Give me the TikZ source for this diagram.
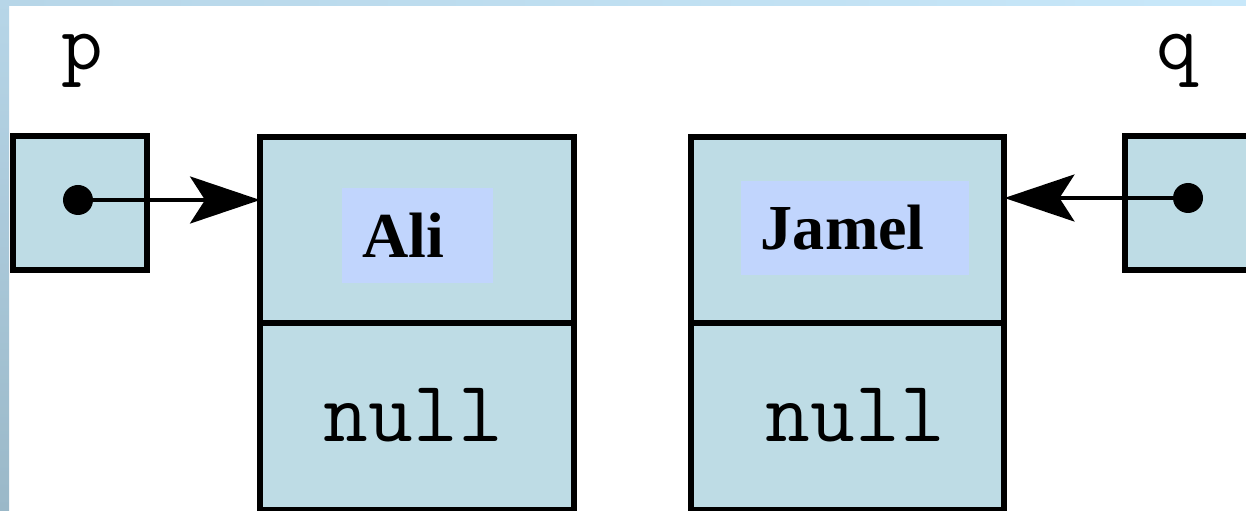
\documentclass[tikz,border=0pt]{standalone}
\usepackage{fontspec}
\usepackage{tikz}
\usetikzlibrary{positioning, arrows.meta, calc}

\newfontfamily\namefont{Liberation Serif}

\definecolor{cellblue}{RGB}{190,220,229}
\definecolor{namebg}{RGB}{193,213,253}
\definecolor{frametop}{RGB}{200,232,250}
\definecolor{frameside}{RGB}{183,214,232}
\definecolor{framelow}{RGB}{154,184,200}

\begin{document}
\begin{tikzpicture}[
    x=0.02cm, y=0.02cm,
    cell/.style={draw=black, line width=0.12cm, fill=cellblue, outer sep=0pt,
        minimum width=6.28cm, minimum height=3.74cm, inner sep=0pt},
    ref/.style={draw=black, line width=0.12cm, fill=cellblue, outer sep=0pt,
        minimum width=2.7cm, minimum height=2.7cm, inner sep=0pt},
    dot/.style={circle, fill=black, minimum size=0.6cm, inner sep=0pt},
    namebox/.style={fill=namebg, inner xsep=0.4cm, inner ysep=0pt,
        minimum height=1.9cm, font=\namefont\bfseries\fontsize{36.5}{37}\selectfont},
    nulltext/.style={anchor=base, font=\ttfamily\fontsize{49.5}{50}\selectfont},
    varname/.style={anchor=base, font=\ttfamily\fontsize{46}{46}\selectfont},
    link/.style={line width=0.08cm, -{Stealth[length=1.4cm, width=0.94cm, inset=0.3cm]}}
]

% Page and frame strips
\useasboundingbox (0,0) rectangle (1246,510);
\fill[white] (0,0) rectangle (1246,510);
\shade[top color=frameside, bottom color=framelow] (0,0) rectangle (9,510);
\shade[left color=frameside, right color=frametop] (9,504) rectangle (1246,510);

% Reference variables
\node[varname] (pname) at (82,440) {p};
\node[varname] (qname) at (1177,440) {q};
\node[ref] (pbox) at (80,307) {};
\node[ref] (qbox) at (1192,307) {};
\node[dot] (pdot) at (78,310) {};
\node[dot] (qdot) at (1188,312) {};

% First list node
\node[cell] (alidata) at (417,280) {};
\node[cell, below=0pt of alidata] (alinext) {};
\node[namebox] (aliname) at (417.5,274.5) {Ali\kern0.45em};
\node[nulltext] (alinull) at (413.5,68) {null};

% Second list node
\node[cell] (jameldata) at (847.5,280) {};
\node[cell, below=0pt of jameldata] (jamelnext) {};
\node[namebox] (jamelname) at (855,282) {Jamel\kern0.38em};
\node[nulltext] (jamelnull) at (855.5,68) {null};

% Pointers
\draw[link] (pdot.center) -- (pdot.center -| alidata.west);
\draw[link] (qdot.center) -- (qdot.center -| jameldata.east);

\end{tikzpicture}
\end{document}
